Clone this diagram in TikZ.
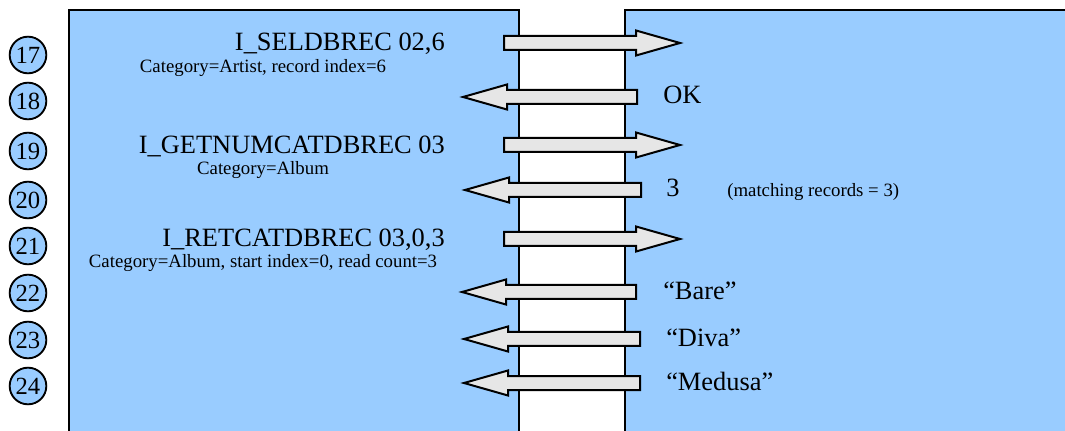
\documentclass[tikz,border=0pt]{standalone}
\usepackage{fontspec}
\setmainfont{Liberation Serif}
\usepackage{xcolor}
\usetikzlibrary{positioning}
\definecolor{PanelBlue}{RGB}{153,204,255}
\definecolor{ArrowGray}{RGB}{230,230,230}
% block arrows: {tail}{tip}{y}
\newcommand{\msgright}[3]{\draw[msg] (#1,{#3-7}) -- ({#2-44},{#3-7}) -- ({#2-44},{#3-12.5}) -- (#2,#3) -- ({#2-44},{#3+12.5}) -- ({#2-44},{#3+7}) -- (#1,{#3+7}) -- cycle;}
\newcommand{\msgleft}[3]{\draw[msg] (#1,{#3-7}) -- ({#2+44},{#3-7}) -- ({#2+44},{#3-12.5}) -- (#2,#3) -- ({#2+44},{#3+12.5}) -- ({#2+44},{#3+7}) -- (#1,{#3+7}) -- cycle;}

\begin{document}
\begin{tikzpicture}[x=0.75pt, y=-0.75pt,
		panel/.style={fill=PanelBlue},
		edge/.style={line width=1.5pt},
		msg/.style={draw, fill=ArrowGray, line width=1.5pt, line join=miter},
		stepnum/.style={circle, draw, fill=PanelBlue, line width=1.4pt, minimum size=27.5pt, inner sep=0pt, font=\fontsize{18.5}{18.5}\selectfont},
		cmd/.style={anchor=base east, inner sep=0pt, font=\fontsize{19.8}{20}\selectfont},
		note/.style={anchor=base, inner sep=0pt, font=\fontsize{14.1}{15}\selectfont},
		reply/.style={anchor=base west, inner sep=0pt, font=\fontsize{19.8}{20}\selectfont}]
				\useasboundingbox (0,0) rectangle (1065,431);
				% panels
				\fill[panel] (69,10) rectangle (519,445);
				\fill[panel] (625,10) rectangle (1080,445);
				\draw[edge] (69,445) -- (69,10) -- (519,10) -- (519,445);
				\draw[edge] (1080,10) -- (625,10) -- (625,445);
				% step numbers
				\node[stepnum] (s17) at (28,55) {17};
				\node[stepnum] (s18) at (28,101) {18};
				\node[stepnum] (s19) at (28,151) {19};
				\node[stepnum] (s20) at (28,200) {20};
				\node[stepnum] (s21) at (28,246) {21};
				\node[stepnum] (s22) at (28,293) {22};
				\node[stepnum] (s23) at (28,340) {23};
				\node[stepnum] (s24) at (28,386) {24};
				% messages
				\msgright{504}{680}{43}
				\msgleft{637}{463}{97}
				\msgright{504}{680}{145}
				\msgleft{641}{465}{190}
				\msgright{504}{680}{239}
				\msgleft{636}{462}{292}
				\msgleft{640}{464}{339}
				\msgleft{640}{464}{383}
				% commands
				\node[cmd] (c17) at (445,51) {I\_SELDBREC 02,6};
				\node[note] (d17) at (263,73) {Category=Artist, record index=6};
				\node[cmd] (c19) at (445,154) {I\_GETNUMCATDBREC 03};
				\node[note] (d19) at (263,175) {Category=Album};
				\node[cmd] (c21) at (445,247) {I\_RETCATDBREC 03,0,3};
				\node[note] (d21) at (263,268) {Category=Album, start index=0, read count=3};
				% replies
				\node[reply] (r18) at (663,104) {OK};
				\node[reply] (r20) at (666,197) {3};
				\node[reply, font=\fontsize{14.1}{15}\selectfont] (m20) at (727,197) {(matching records = 3)};
				\node[reply] (r22) at (663,300) {``Bare''};
				\node[reply] (r23) at (666,346) {``Diva''};
				\node[reply] (r24) at (666,390) {``Medusa''};
			\end{tikzpicture}
\end{document}
